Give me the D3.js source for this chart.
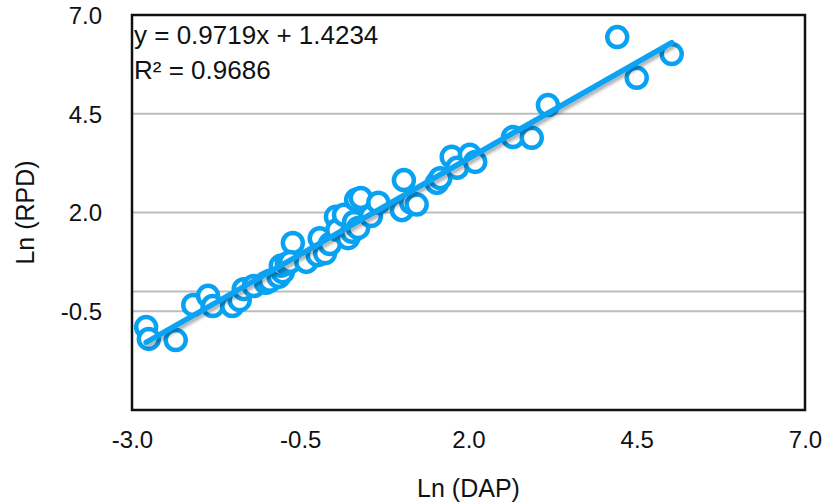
<!DOCTYPE html>
<html>
<head>
<meta charset="utf-8">
<script src="https://cdn.jsdelivr.net/npm/d3@7"></script>
<style>
  body { margin: 0; background: #fff; }
  svg text { font-family: "Liberation Sans", Arial, Helvetica, sans-serif; fill: #111; }
</style>
</head>
<body>
<svg id="chart" width="835" height="502"></svg>
<script>
// ln(DAP) / ln(RPD) pairs
var lnDAP = [-2.79, -2.75, -2.35, -2.09, -1.87, -1.80, -1.51, -1.40, -1.34, -1.19,
             -1.01, -0.95, -0.82, -0.76, -0.79, -0.70, -0.61, -0.65, -0.41, -0.24,
             -0.21, -0.13, -0.06, 0.03, 0.05, 0.15, 0.21, 0.27, 0.33, 0.30,
             0.40, 0.36, 0.55, 0.66, 1.04, 1.01, 1.15, 1.23, 1.53, 1.58,
             1.75, 1.83, 2.02, 2.10, 2.66, 2.94, 3.18, 4.21, 4.50, 5.02];
var lnRPD = [-0.90, -1.20, -1.23, -0.34, -0.11, -0.37, -0.37, -0.22, 0.06, 0.14,
             0.22, 0.27, 0.37, 0.49, 0.65, 0.70, 1.23, 0.75, 0.75, 0.92,
             1.35, 0.97, 1.20, 1.89, 1.56, 1.94, 1.35, 1.51, 2.32, 1.76,
             2.37, 1.61, 1.91, 2.25, 2.82, 2.06, 2.25, 2.20, 2.75, 2.87,
             3.41, 3.13, 3.46, 3.28, 3.91, 3.89, 4.72, 6.44, 5.41, 6.01];

var xTicks = [-3.0, -0.5, 2.0, 4.5, 7.0];
var yTicks = [-0.5, 2.0, 4.5, 7.0];
var gridLines = [0.0, -0.5, 2.0, 4.5];

var slope = 0.9719, intercept = 1.4234, r2 = 0.9686;

var blue = '#08a2f2';
var margin = { left: 132, top: 15, right: 30, bottom: 92 };
var width = 835, height = 502;

var svg = d3.select('#chart');

var x = d3.scaleLinear().domain([-3, 7]).range([margin.left, width - margin.right]);
var y = d3.scaleLinear().domain([-3, 7]).range([height - margin.bottom, margin.top]);

// plain hyphen for negatives, one decimal
var fmt = function (d) { return d3.format('.1f')(d).replace('\u2212', '-'); };

// shadow under the trend line
var defs = svg.append('defs');
defs.append('filter').attr('id', 'shadow')
    .attr('x', '-10%').attr('y', '-10%').attr('width', '120%').attr('height', '130%')
    .append('feDropShadow')
    .attr('dx', 2).attr('dy', 3).attr('stdDeviation', 1.5)
    .attr('flood-color', '#000').attr('flood-opacity', 0.3);

// horizontal grid
svg.append('g').attr('class', 'grid')
    .selectAll('line').data(gridLines).enter()
    .append('line')
    .attr('x1', x(-3)).attr('x2', x(7))
    .attr('y1', function (d) { return y(d); })
    .attr('y2', function (d) { return y(d); })
    .attr('stroke', '#bdbdbd').attr('stroke-width', 2);

// tick labels only, no tick marks
var xAxis = svg.append('g')
    .attr('transform', 'translate(0,' + (y(-3) + 30) + ')')
    .call(d3.axisBottom(x).tickValues(xTicks).tickFormat(fmt).tickSize(0));
var yAxis = svg.append('g')
    .attr('transform', 'translate(' + (x(-3) - 30) + ',0)')
    .call(d3.axisLeft(y).tickValues(yTicks).tickFormat(fmt).tickSize(0));

[xAxis, yAxis].forEach(function (ax) {
    ax.select('.domain').remove();
    ax.attr('font-size', null).attr('font-family', null);
    ax.selectAll('text').attr('fill', '#111').style('font-size', '24px');
});
xAxis.selectAll('text').attr('y', 0).attr('dy', '0.35em');
yAxis.selectAll('text').attr('x', 0).attr('dy', '0.35em');

// points
svg.append('g').attr('class', 'points')
    .selectAll('circle').data(lnDAP).enter()
    .append('circle')
    .attr('cx', function (d) { return x(d); })
    .attr('cy', function (d, i) { return y(lnRPD[i]); })
    .attr('r', 10)
    .attr('fill', '#fff')
    .attr('stroke', blue)
    .attr('stroke-width', 4.5);

// linear trend line across the data span
var xMin = d3.min(lnDAP), xMax = d3.max(lnDAP);
svg.append('line')
    .attr('x1', x(xMin)).attr('y1', y(slope * xMin + intercept))
    .attr('x2', x(xMax)).attr('y2', y(slope * xMax + intercept))
    .attr('stroke', blue).attr('stroke-width', 5.5)
    .attr('stroke-linecap', 'round')
    .attr('filter', 'url(#shadow)');

// frame
svg.append('rect')
    .attr('x', x(-3)).attr('y', y(7))
    .attr('width', x(7) - x(-3)).attr('height', y(-3) - y(7))
    .attr('fill', 'none').attr('stroke', '#111').attr('stroke-width', 2.5);

// equation
var eq = svg.append('g').attr('class', 'equation').style('font-size', '26px');
eq.append('text')
    .attr('x', x(-3) + 2).attr('y', 44)
    .text('y = ' + slope.toFixed(4) + 'x + ' + intercept.toFixed(4));
eq.append('text')
    .attr('x', x(-3) + 2).attr('y', 79)
    .text('R² = ' + r2.toFixed(4));

// axis titles
svg.append('text')
    .attr('x', (x(-3) + x(7)) / 2).attr('y', 497)
    .attr('text-anchor', 'middle').style('font-size', '25px')
    .text('Ln (DAP)');
svg.append('text')
    .attr('transform', 'translate(25,' + y(2) + ') rotate(-90)')
    .attr('text-anchor', 'middle').attr('dy', '0.35em').style('font-size', '25px')
    .text('Ln (RPD)');
</script>
</body>
</html>
